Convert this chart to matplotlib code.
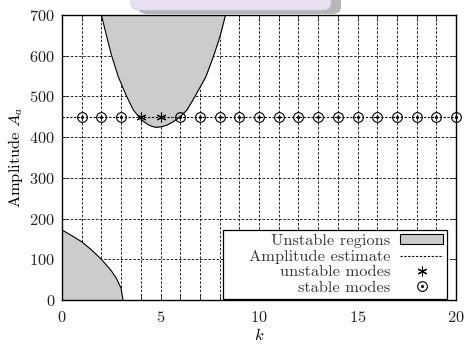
import matplotlib
matplotlib.use("Agg")
import matplotlib.pyplot as plt
from matplotlib.patches import FancyBboxPatch, Patch
from matplotlib.lines import Line2D
from matplotlib.legend_handler import HandlerTuple

# upper instability tongue: amplitude levels and the k bounds at each level
tongue_A = [700, 647, 600, 548, 500, 467, 450, 438, 430, 426, 424]
tongue_k_left = [2.0, 2.27, 2.52, 2.86, 3.28, 3.62, 3.9, 4.15, 4.4, 4.6, 4.8]
tongue_k_right = [8.3, 8.02, 7.7, 7.3, 6.75, 6.35, 6.0, 5.65, 5.35, 5.1, 4.8]

# lower instability region near the origin
low_k = [0, 0.5, 1, 1.5, 2, 2.5, 2.75, 3, 3.05, 3.1]
low_A = [172, 158, 143, 123, 100, 72, 54, 29, 13, 0]

A_est = 450
modes_k = list(range(1, 21))
unstable_k = [4, 5]
stable_k = [k for k in modes_k if k not in unstable_k]

plt.rcParams['font.family'] = 'cmr10'
plt.rcParams['mathtext.fontset'] = 'cm'
plt.rcParams['axes.formatter.use_mathtext'] = True
plt.rcParams['font.size'] = 11.8

fig = plt.figure(figsize=(4.65, 3.45), dpi=100)
ax = fig.add_axes([62/465, 1 - 300/345, 394/465, 285/345])

gray = '#cccccc'
ax.fill_betweenx(tongue_A, tongue_k_left, tongue_k_right, color=gray, lw=0, zorder=1)
ax.plot(tongue_k_left, tongue_A, color='k', lw=0.8, zorder=2)
ax.plot(tongue_k_right, tongue_A, color='k', lw=0.8, zorder=2)
ax.fill_between(low_k, 0, low_A, color=gray, lw=0, zorder=1)
ax.plot(low_k, low_A, color='k', lw=0.8, zorder=2)

dots = (0, (2, 1.5))
ax.plot([0, 20], [A_est, A_est], color='k', lw=0.8, ls=dots, zorder=3)
ax.plot(unstable_k, [A_est] * len(unstable_k), ls='none', marker=(6, 2, 0),
        ms=7, mec='k', mew=0.8, zorder=4)
ax.plot(stable_k, [A_est] * len(stable_k), ls='none', marker='o', ms=7,
        mfc='none', mec='k', mew=0.8, zorder=4, clip_on=False)
ax.plot(stable_k, [A_est] * len(stable_k), ls='none', marker='o', ms=1.2,
        mfc='k', mec='k', zorder=4, clip_on=False)

ax.set_xlim(0, 20)
ax.set_ylim(0, 700)
ax.set_xticks([0, 5, 10, 15, 20])
ax.set_xticks(range(0, 21), minor=True)
ax.set_yticks(range(0, 701, 100))
ax.grid(True, which='both', axis='x', color='k', ls=(0, (3, 2)), lw=0.6)
ax.grid(True, which='major', axis='y', color='k', ls=(0, (3, 2)), lw=0.6)
ax.set_axisbelow(True)
ax.tick_params(which='both', direction='in', top=True, right=True, length=4,
               width=0.6, colors='#222222')
ax.tick_params(axis='x', pad=7)
ax.tick_params(axis='y', pad=5)
for s in ax.spines.values():
    s.set_linewidth(1.0)

ax.set_xlabel('$k$', labelpad=2)
ax.set_ylabel('Amplitude $A_a$', labelpad=3)

ring = Line2D([], [], ls='none', marker='o', ms=7, mfc='none', mec='k', mew=0.8)
dot = Line2D([], [], ls='none', marker='o', ms=1.2, mfc='k', mec='k')
handles = [
    Patch(facecolor=gray, edgecolor='k', lw=0.8),
    Line2D([], [], color='k', lw=0.8, ls=dots),
    Line2D([], [], ls='none', marker=(6, 2, 0), ms=7, mec='k', mew=0.8),
    (ring, dot),
]
labels = ['Unstable regions', '    Amplitude estimate', 'unstable modes', 'stable modes']
leg = ax.legend(handles, labels, loc='lower right', bbox_to_anchor=(0.977, 0.004),
                borderaxespad=0, markerfirst=False, fancybox=False, framealpha=1,
                edgecolor='k', handlelength=2.6, handleheight=0.55, labelspacing=0.1,
                borderpad=0.25, handletextpad=0.6, fontsize=11.8,
                handler_map={tuple: HandlerTuple(ndivide=1, pad=0)})
leg.get_frame().set_linewidth(0.9)
for t in leg.get_texts():
    t.set_color('#3a3a3a')

# rounded tab across the top edge
fig.patches.append(FancyBboxPatch((138/465, 1 - 14/345), 203/465, 30/345,
                                  boxstyle='round,pad=0,rounding_size=0.02',
                                  transform=fig.transFigure, fc='#7a7a7a', ec='none',
                                  alpha=0.55, zorder=0))
fig.patches.append(FancyBboxPatch((131/465, 1 - 10/345), 200/465, 30/345,
                                  boxstyle='round,pad=0,rounding_size=0.02',
                                  transform=fig.transFigure, fc='#e8e1f2', ec='#d5cce3',
                                  lw=0.6, zorder=1))

fig.savefig('out.png', dpi=100)
